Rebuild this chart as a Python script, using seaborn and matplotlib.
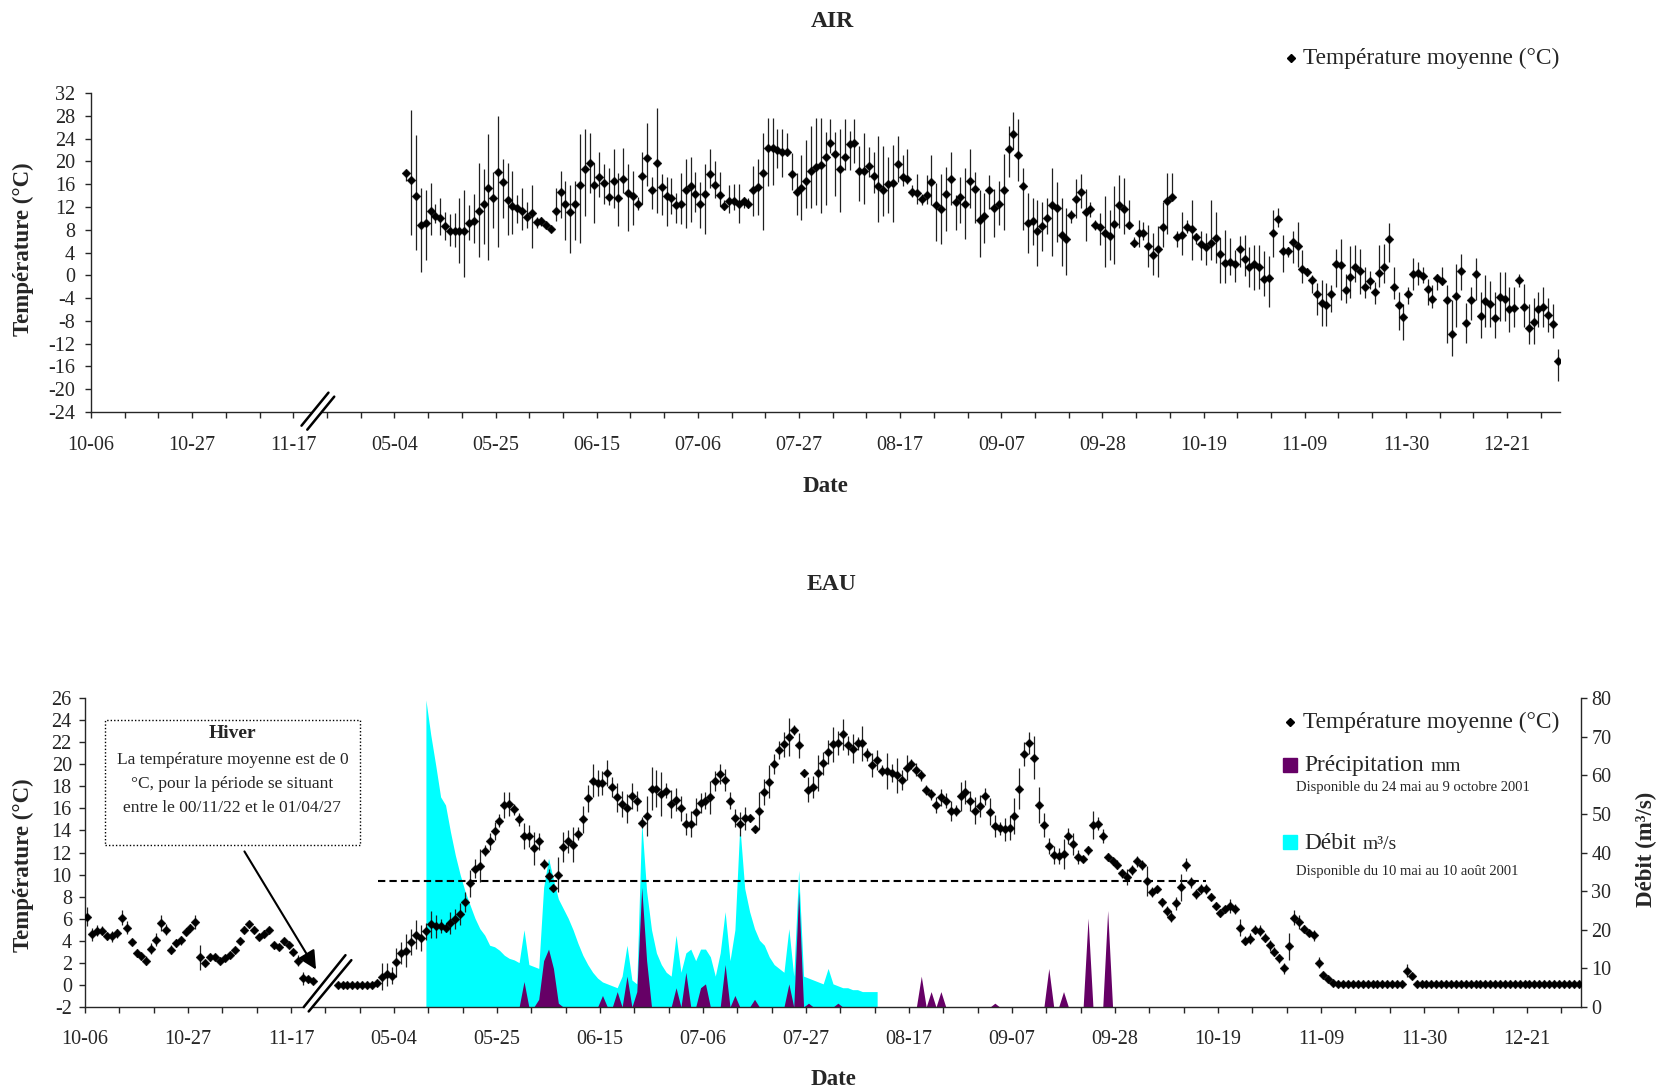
import numpy as np
import pandas as pd
import matplotlib
matplotlib.use("Agg")
import matplotlib.pyplot as plt
import seaborn as sns
from matplotlib.patches import Rectangle
from matplotlib.lines import Line2D

# ---------------------------------------------------------------- data
# day index on the (broken) category axis: 0 = 10-06 (2000), 63 = 05-04 (2001)
tick_labels = ["10-06", "10-27", "11-17", "05-04", "05-25", "06-15", "07-06",
               "07-27", "08-17", "09-07", "09-28", "10-19", "11-09", "11-30", "12-21"]

AIR_START = 65
air_mean = [18.0, 16.7, 14.0, 8.85, 9.26, 11.3, 10.4, 10.0, 8.7, 7.7, 7.7, 7.7, 7.7, 9.1, 9.6, 11.3, 12.6, 15.3, 13.5, 18.2,
            16.3, 13.2, 12.2, 11.8, 11.3, 10.3, 10.9, 9.4, 9.5, 8.85, 8.2, 11.3, 14.6, 12.5, 11.1, 12.6, 15.8, 18.6, 19.8, 15.9,
            17.2, 16.2, 13.7, 16.5, 13.6, 16.9, 14.5, 13.9, 12.6, 17.5, 20.6, 15.0, 19.8,
            15.45, 13.9, 13.5, 12.4, 12.5, 14.9, 15.6, 14.2, 12.6, 14.3, 17.8, 15.9, 14.1, 12.1, 13.0, 13.1, 12.5, 13.1, 12.6, 14.9,
            15.45, 18.0, 22.4, 22.4, 22.0, 21.7, 21.7, 17.7, 14.6, 15.3, 16.6, 18.4, 19.1, 19.3, 20.8, 23.3, 21.3, 18.7, 20.8, 23.0,
            23.3, 18.3, 18.3, 19.2, 17.4, 15.7, 15.0, 16.0, 16.2, 19.5, 17.2, 16.9, 14.7, 14.4, 13.4, 14.1,
            16.3, 12.4, 11.7, 14.3, 16.9, 12.8, 13.7, 12.6, 16.6, 15.2, 9.7, 10.4, 14.9, 11.9, 12.6, 15.0, 22.1, 24.8, 21.1, 15.6,
            9.26, 9.55, 7.7, 8.7, 10.0, 12.4, 11.9, 7.1, 6.3, 10.6, 13.4, 14.7, 11.1, 11.6, 8.85, 8.4, 7.5, 6.9, 9.0, 12.4,
            11.6, 8.85, 5.75, 7.5, 7.5, 5.2, 3.6, 4.6, 8.4, 13.1, 13.8, 6.8, 7.1, 8.55, 8.1, 6.8,
            5.5, 4.9, 5.6, 6.6, 3.8, 2.2, 2.4, 1.9, 4.7, 2.8, 1.5, 1.9, 1.4, -0.7, -0.5, 7.5, 9.8, 4.2, 4.2, 5.8,
            5.2, 1.1, 0.5, -0.8, -3.3, -4.8, -5.3, -3.3, 2.0, 1.8, -2.6, -0.3, 1.4, 0.7, -2.0, -1.0, -2.9, 0.4, 1.5, 6.3,
            -2.1, -5.3, -7.4, -3.3, 0.2, 0.4, -0.1, -2.4, -4.1, -0.5, -1.0, -4.4, -10.3, -3.6, 0.7, -8.3, -4.4, 0.2, -7.1,
            -4.5, -5.0, -7.5, -3.8, -4.2, -6.0, -5.8, -0.8, -5.5, -9.2, -8.2, -6.0, -5.5, -7.0, -8.5, -15.0]
air_high = [18.5, 29, 24.6, 15.3, 15, 16.2, 12.6, 13.5, 11.2, 10.8, 10.9, 13.5, 15, 12.4, 14.3, 19.8, 18.6, 24.8, 18.2, 28,
            20.5, 19.8, 18.3, 14.1, 15.4, 12.9, 15.9, 10.3, 10.3, 9.3, 8.5, 15.3, 18.4, 16.6, 15.9, 16.5, 24.8, 25.6, 25, 19.8,
            21.7, 19.5, 18.8, 22.1, 17.9, 22.4, 19.5, 18.3, 13.8, 21.7, 26.7, 17.2, 29.3,
            17.8, 17.2, 17.0, 14.4, 18.0, 20.4, 20.8, 18.2, 16.3, 19.5, 22.1, 20.0, 18.2, 13.2, 15.9, 16.0, 16.0, 13.7, 13.5, 19.2,
            20.5, 25.0, 27.6, 27.7, 25.6, 25.6, 25.0, 21.4, 18.0, 21.1, 23.8, 26.2, 27.6, 27.6, 25.2, 27.4, 25.2, 25.6, 27.4, 25.4,
            27.4, 22.7, 25.0, 22.6, 21.7, 24.5, 22.7, 20.8, 22.9, 24.5, 21.1, 22.1, 15.9, 17.8, 14.3, 17.6,
            21.1, 16.2, 17.8, 19.0, 21.7, 14.1, 17.2, 18.8, 22.1, 18.2, 15.0, 14.4, 17.6, 15.1, 16.6, 21.3, 26.2, 28.6, 27.4, 18.8,
            14.4, 13.5, 13.2, 12.9, 13.5, 18.8, 16.3, 13.5, 11.8, 11.5, 16.9, 17.8, 15.1, 12.9, 9.7, 10.9, 13.9, 11.4, 15.6, 17.6,
            17.0, 13.3, 6.8, 9.7, 9.3, 8.85, 7.4, 8.7, 12.9, 18.0, 18.0, 7.7, 11.2, 9.7, 13.3, 7.3,
            7.7, 7.5, 13.2, 11.2, 6.5, 7.9, 6.5, 4.5, 6.9, 7.1, 4.9, 5.3, 5.3, 4.2, 3.4, 11.4, 11.8, 7.1, 5.0, 7.7,
            9.4, 4.5, 1.2, 0.1, -1.4, -0.8, -1.3, -1.7, 4.6, 6.3, 0.25, 5.2, 5.3, 4.6, 1.5, 0.7, -1.1, 5.3, 5.5, 9.2,
            1.5, -2.9, -5.0, -2.0, 3.0, 2.4, 1.5, -0.7, -1.7, 0.25, 1.5, -1.7, -4.3, 2.0, 3.8, -4.9, -2.0, 3.0, -3.0,
            0.0, -1.0, -3.0, 0.5, 0.5, -2.0, -2.0, 0.3, -1.5, -5.0, -4.0, -3.0, -2.0, -4.0, -5.0, -13.0]
air_low = [16.5, 7.1, 4.4, 0.6, 2.7, 7.1, 9.1, 7.1, 6.2, 5.2, 5.0, 2.1, -0.3, 6.2, 5.6, 3.3, 5.5, 2.6, 8.3, 5.0,
           10.0, 7.1, 7.3, 9.1, 8.0, 8.3, 4.8, 8.3, 8.6, 8.3, 7.7, 9.6, 10.0, 6.2, 3.9, 6.2, 5.6, 10.4, 14.4, 9.1,
           13.7, 12.6, 12.4, 11.8, 8.6, 14.4, 7.7, 8.9, 11.5, 12.6, 15.6, 11.6, 10.9,
           10.6, 8.7, 10.8, 9.1, 9.0, 8.3, 9.4, 11.2, 8.3, 7.3, 15.3, 13.5, 12.1, 11.5, 11.0, 11.4, 9.1, 11.9, 11.8, 10.4,
           10.6, 8.0, 15.6, 15.9, 18.8, 17.2, 21.1, 15.0, 10.6, 9.7, 11.8, 11.8, 12.4, 10.9, 12.4, 21.4, 13.9, 11.2, 18.5, 18.5,
           19.7, 13.1, 12.6, 17.2, 14.4, 9.4, 10.4, 10.9, 9.4, 16.3, 15.6, 16.0, 13.8, 12.6, 12.4, 12.6,
           12.4, 6.1, 5.5, 7.7, 12.4, 7.9, 9.1, 6.3, 11.8, 9.1, 3.2, 5.6, 11.6, 6.8, 8.85, 8.0, 17.2, 22.1, 16.5, 8.0,
           3.9, 5.3, 1.6, 4.3, 7.3, 3.4, 5.9, 1.6, 0.1, 9.1, 10.0, 11.8, 6.1, 10.3, 8.0, 5.3, 1.4, 2.7, 2.0, 8.3,
           7.3, 8.3, 5.0, 5.0, 6.2, 1.4, 0.1, -0.3, 5.0, 7.3, 13.2, 5.0, 3.6, 7.4, 2.6, 5.5,
           2.7, 1.8, 2.6, 2.1, -1.4, -1.4, 0.1, -1.1, 1.5, -0.2, -2.0, -2.6, -2.4, -3.6, -5.5, 3.3, 8.4, 0.5, 3.3, 2.2,
           1.5, -1.4, -0.2, -3.1, -7.0, -8.9, -8.9, -6.5, -2.0, -4.3, -4.9, -4.0, -1.1, -3.3, -4.0, -2.4, -5.0, -2.0, -1.3, 2.4,
           -4.2, -9.6, -11.3, -5.0, -2.6, -1.7, -1.4, -5.2, -5.8, -2.6, -1.7, -11.9, -14.2, -9.1, -2.6, -11.9, -7.8, -4.3, -11.0,
           -9.0, -9.0, -11.0, -8.0, -8.0, -10.0, -9.0, -2.0, -9.0, -12.0, -12.0, -9.0, -9.0, -10.0, -11.0, -18.5]

# water temperature, autumn 2000 (before the winter break)
WATER_A_START = 0
water_a_mean = [6.2, 4.6, 4.9, 4.9, 4.4, 4.4, 4.7, 6.1, 5.2, 3.9, 2.9, 2.6, 2.2, 3.3, 4.1, 5.6, 5.0, 3.2, 3.8, 4.05,
                4.8, 5.2, 5.7, 2.5, 2.0, 2.5, 2.5, 2.2, 2.4, 2.7, 3.2, 4.0, 5.0, 5.5, 5.0, 4.35, 4.65, 4.95, 3.6, 3.4,
                3.95, 3.6, 3.0, 2.2, 0.6, 0.5, 0.35]
water_a_err = [0.9, 0.6, 0.5, 0.4, 0.3, 0.5, 0.4, 0.7, 0.6, 0.3, 0.4, 0.3, 0.4, 0.5, 0.6, 0.7, 0.5, 0.4, 0.4, 0.4,
               0.3, 0.3, 0.6, 1.1, 0.3, 0.3, 0.2, 0.2, 0.2, 0.2, 0.2, 0.3, 0.3, 0.3, 0.3, 0.2, 0.3, 0.2, 0.3, 0.2,
               0.3, 0.2, 0.2, 0.5, 0.6, 0.3, 0.2]

# water temperature, 2001 (after the break)
WATER_B_START = 51
water_b_mean = [0, 0, 0, 0, 0, 0, 0, 0, 0.15, 0.75, 0.95, 0.85, 2.05,
                2.9, 3.1, 3.9, 4.55, 4.25, 4.85, 5.5, 5.3, 5.35, 5.2, 5.65, 5.95, 6.45, 7.5, 9.2, 10.55, 10.8, 12.15, 13.0, 13.95,
                14.9, 16.3, 16.4, 15.9, 15.0, 13.5, 13.5, 12.4, 13.0, 11.0, 9.9, 8.8, 10.0, 12.5, 13.0, 12.7, 13.7, 15.0, 16.9, 18.5,
                18.3, 18.3, 19.2, 17.9, 17.0, 16.4, 16.0, 17.1, 16.7, 14.7, 15.3, 17.8, 17.8, 17.3, 17.6, 16.4, 16.8,
                16.0, 14.6, 14.6, 15.7, 16.5, 16.7, 17.0, 18.5, 19.1, 18.6, 16.7, 15.1, 14.6, 15.1, 15.1, 14.1, 15.8, 17.5, 18.4, 20.0,
                21.3, 21.8, 22.45, 23.1, 21.7, 19.2, 17.7, 17.9, 19.2, 20.1, 21.1, 21.8, 21.9, 22.7, 21.7, 21.4, 21.9, 21.9, 20.9, 19.9,
                20.4, 19.4, 19.4, 19.2, 19.0, 18.6, 19.7, 20.0, 19.5, 19.0, 17.7, 17.3, 16.3, 17.0, 16.7, 15.8, 15.8,
                17.1, 17.5, 16.7, 15.8, 16.2, 17.1, 15.7, 14.4, 14.2, 14.1, 14.2, 15.3, 17.8, 20.9, 21.9, 20.6, 16.3, 14.5, 12.6, 11.8,
                11.7, 11.9, 13.5, 12.8, 11.6, 11.4, 12.2, 14.5, 14.6, 13.5, 11.6, 11.2, 10.9, 10.1, 9.8, 10.4, 11.2, 10.9, 9.45, 8.4,
                8.7, 7.5, 6.7, 6.2, 7.4, 8.85, 10.9, 9.3, 8.25, 8.7, 8.7, 8.0, 7.2, 6.5, 6.9, 7.15, 6.85,
                5.2, 4.0, 4.2, 5.0, 4.9, 4.3, 3.6, 3.0, 2.4, 1.5, 3.5, 6.1, 5.7, 5.1, 4.7, 4.5,
                2.0, 0.9, 0.5, 0.2, 0.1, 0.1, 0.1, 0.1, 0.1, 0.1, 0.1, 0.1, 0.1, 0.1, 0.1, 0.1, 0.1, 0.1, 1.3, 0.8,
                0.1, 0.1, 0.1, 0.1, 0.1, 0.1, 0.1, 0.1, 0.1, 0.1, 0.1, 0.1, 0.1, 0.1, 0.1, 0.1, 0.1, 0.1, 0.1, 0.1,
                0.1, 0.1, 0.1, 0.1, 0.1, 0.1, 0.1, 0.1, 0.1, 0.1, 0.1, 0.1, 0.1, 0.1]
water_b_err = [0.05, 0.05, 0.05, 0.05, 0.05, 0.05, 0.05, 0.05, 0.2, 1.2, 1.0, 0.8, 1.3,
               1.0, 1.5, 1.2, 1.3, 1.2, 0.8, 1.2, 1.0, 0.6, 0.4, 1.0, 0.9, 1.0, 0.9, 1.2, 0.9, 1.5, 0.5, 0.8, 0.8,
               0.6, 1.2, 1.05, 0.5, 0.6, 1.2, 1.0, 1.5, 0.75, 0.45, 0.6, 0.3, 1.6, 1.35, 1.05, 1.6, 0.6, 1.2, 1.2, 1.5,
               1.2, 1.05, 1.2, 0.9, 1.3, 1.2, 1.3, 1.2, 0.9, 0.5, 1.8, 1.95, 1.65, 2.0, 0.7, 1.3, 1.05,
               1.1, 1.0, 1.2, 1.2, 0.9, 0.75, 1.5, 0.9, 0.9, 1.0, 0.75, 0.8, 1.1, 1.05, 0.3, 0.3, 1.7, 1.2, 1.5, 0.9,
               0.8, 1.1, 1.7, 0.45, 1.1, 0.4, 1.1, 1.0, 1.65, 1.05, 1.1, 1.6, 1.1, 1.4, 0.9, 1.3, 0.6, 1.6, 0.6, 1.1,
               0.9, 0.5, 1.65, 0.8, 1.6, 0.9, 1.1, 0.45, 0.6, 0.5, 0.45, 0.5, 0.7, 0.75, 0.7, 0.9, 0.5,
               1.3, 1.1, 0.9, 1.2, 1.0, 0.75, 1.2, 1.0, 0.6, 1.05, 1.1, 1.6, 1.9, 1.1, 1.0, 1.95, 1.65, 1.1, 0.7, 0.8,
               0.7, 1.35, 0.75, 1.0, 0.6, 0.3, 0.4, 1.3, 0.6, 0.6, 0.4, 0.3, 0.4, 0.45, 0.7, 0.45, 0.5, 0.45, 1.35, 0.45,
               0.3, 0.4, 0.45, 0.5, 0.6, 1.2, 0.6, 0.5, 0.45, 0.45, 0.45, 0.3, 0.3, 0.3, 0.3, 0.6, 0.45,
               0.8, 0.4, 0.5, 0.4, 0.5, 0.4, 0.5, 0.4, 0.4, 0.5, 1.2, 0.7, 0.6, 0.3, 0.3, 0.5,
               0.5, 0.3, 0.2, 0.05, 0.05, 0.05, 0.05, 0.05, 0.05, 0.05, 0.05, 0.05, 0.05, 0.05, 0.05, 0.05, 0.05, 0.05, 0.6, 0.3,
               0.05, 0.05, 0.05, 0.05, 0.05, 0.05, 0.05, 0.05, 0.05, 0.05, 0.05, 0.05, 0.05, 0.05, 0.05, 0.05, 0.05, 0.05, 0.05, 0.05,
               0.05, 0.05, 0.05, 0.05, 0.05, 0.05, 0.05, 0.05, 0.05, 0.05, 0.05, 0.05, 0.05, 0.05]

# discharge (m3/s), 10 May - 10 Aug 2001
DEBIT_START = 69
debit = [79.5, 70.4, 62.6, 54.4, 52.3, 45.4, 39.3, 34.2, 29.9, 26.4,
         23.0, 20.3, 18.6, 16.0, 15.6, 14.7, 13.4, 12.6, 12.2, 11.5,
         20.0, 11.0, 10.5, 10.0, 31.0, 38.5, 33.0, 28.0, 25.5, 23.0,
         20.0, 16.5, 13.4, 11.0, 9.0, 7.5, 6.5, 6.0, 5.5, 5.0,
         8.0, 16.0, 7.0, 6.0, 48.0, 30.0, 20.0, 14.0, 11.0, 9.0,
         8.0, 18.6, 9.0, 14.0, 15.0, 12.0, 15.0, 15.0, 13.0, 8.0,
         14.0, 24.7, 12.0, 20.0, 47.0, 30.7, 24.7, 20.3, 17.3, 16.0,
         13.0, 11.0, 10.0, 9.0, 20.3, 8.0, 35.4, 8.0, 7.5, 7.0,
         6.5, 6.0, 10.0, 6.0, 5.5, 5.0, 5.0, 4.5, 4.5, 4.0,
         4.0, 4.0, 4.0]

# precipitation (mm), 24 May - 9 Oct 2001 (days not listed: 0 mm)
PRECIP_START, PRECIP_END = 83, 221
precip_day = [89, 92, 93, 94, 95, 96, 105, 108, 110, 112, 113, 114, 120, 122, 125, 126, 130, 132, 136,
              143, 145, 147, 153, 170, 172, 174, 185, 196, 199, 204, 208]
precip_mm = [6.6, 2, 12, 15, 10, 1, 3, 4, 8, 4, 31, 12, 5, 9, 5, 6, 11, 3, 2,
             6, 30, 1, 1, 8, 4, 4, 1, 10, 4, 23, 25]

# dashed reference level on the water panel
seuil_level = 9.4
seuil_from, seuil_to = 59.7, 228.5

# ---------------------------------------------------------------- style
sns.set_style("ticks")
plt.rcParams["font.family"] = ["Liberation Serif", "DejaVu Serif"]
plt.rcParams["axes.unicode_minus"] = False
plt.rcParams["axes.linewidth"] = 1.0

CYAN = "#00FFFF"
PURPLE = "#660066"
TICK_FS = 14.5
LAB_FS = 16.5
LEG_FS = 16.8
N_DAYS = 305

air_df = pd.DataFrame({"pos": np.arange(AIR_START, AIR_START + len(air_mean)) + 0.5,
                       "temp": air_mean, "low": air_low, "high": air_high})
wa = pd.DataFrame({"pos": np.arange(WATER_A_START, WATER_A_START + len(water_a_mean)) + 0.5,
                   "temp": water_a_mean, "err": water_a_err})
wb = pd.DataFrame({"pos": np.arange(WATER_B_START, WATER_B_START + len(water_b_mean)) + 0.5,
                   "temp": water_b_mean, "err": water_b_err})
water_df = pd.concat([wa, wb], ignore_index=True)
debit_df = pd.DataFrame({"pos": np.arange(DEBIT_START, DEBIT_START + len(debit)) + 0.5, "q": debit})
pdays = np.arange(PRECIP_START, PRECIP_END + 1)
pvals = np.zeros(len(pdays))
for d, v in zip(precip_day, precip_mm):
    pvals[d - PRECIP_START] = v
precip_df = pd.DataFrame({"pos": pdays + 0.5, "mm": pvals})

fig = plt.figure(figsize=(16.64, 10.92), dpi=100)


def style_xaxis(ax, pad):
    ax.set_xlim(0, N_DAYS)
    ticks = np.arange(0, N_DAYS, 7)
    ax.set_xticks(ticks)
    labs = []
    for t in ticks:
        labs.append(tick_labels[t // 21] if t % 21 == 0 else "")
    ax.set_xticklabels(labs)
    ax.tick_params(axis="x", direction="out", length=4.5, width=1, labelsize=TICK_FS, pad=pad)


# ---------------------------------------------------------------- AIR
ax1 = fig.add_axes([0.0547, 0.6227, 0.8828, 0.2921])
ax1.vlines(air_df["pos"], air_df["low"], air_df["high"], color="#202020", lw=0.9, zorder=2)
sns.scatterplot(data=air_df, x="pos", y="temp", marker="D", s=20, color="black",
                edgecolor="black", linewidth=0.3, ax=ax1, legend=False, zorder=3)
ax1.set_ylim(-24, 32)
ax1.set_yticks(np.arange(-24, 33, 4))
ax1.tick_params(axis="y", direction="out", length=4.5, width=1, labelsize=TICK_FS, pad=7)
style_xaxis(ax1, 12.5)
sns.despine(ax=ax1)
ax1.set_xlabel("Date", fontsize=LAB_FS, fontweight="bold")
ax1.xaxis.set_label_coords(0.5, -0.232)
ax1.xaxis.label.set_va("center")
ax1.set_ylabel("Température (°C)", fontsize=LAB_FS, fontweight="bold")
ax1.yaxis.set_label_coords(-0.046, 0.511)
ax1.yaxis.label.set_va("center")
fig.text(0.5, 0.9805, "AIR", ha="center", va="center", fontsize=17, fontweight="bold")

# axis break marks (AIR)
ax1.plot([44.3, 49.8], [-26.75, -20.95], color="white", lw=4.5, clip_on=False, zorder=5, solid_capstyle="butt")
ax1.plot([43.7, 49.3], [-26.4, -20.6], color="black", lw=1.8, clip_on=False, zorder=6)
ax1.plot([44.9, 50.5], [-27.1, -21.3], color="black", lw=1.8, clip_on=False, zorder=6)

# legend AIR
fig.add_artist(Line2D([0.7758], [0.9469], marker="D", ms=4.2, color="black", transform=fig.transFigure))
fig.text(0.7831, 0.9469, "Température moyenne (°C)", fontsize=LEG_FS, va="center", ha="left")

# ---------------------------------------------------------------- EAU
ax = fig.add_axes([0.0511, 0.0778, 0.8990, 0.2830])
ax2 = ax.twinx()
ax2.fill_between(debit_df["pos"], 0, debit_df["q"], color=CYAN, lw=0, zorder=1)
ax2.fill_between(precip_df["pos"], 0, precip_df["mm"], color=PURPLE, lw=0, zorder=2)
ax2.set_ylim(0, 80)
ax2.set_yticks(np.arange(0, 81, 10))
ax2.tick_params(axis="y", direction="out", length=4.5, width=1, labelsize=TICK_FS, pad=3)
for s in ["top", "left", "bottom"]:
    ax2.spines[s].set_visible(False)
ax2.set_ylabel("Débit (m³/s)", fontsize=LAB_FS, fontweight="bold")
ax2.yaxis.set_label_coords(1.044, 0.511)
ax2.yaxis.label.set_va("center")

ax.set_zorder(ax2.get_zorder() + 1)
ax.patch.set_visible(False)
ax.hlines(seuil_level, seuil_from, seuil_to, colors="black", linestyles=(0, (3.5, 2)), lw=1.5, zorder=2)
ax.vlines(water_df["pos"], water_df["temp"] - water_df["err"], water_df["temp"] + water_df["err"],
          color="#202020", lw=0.9, zorder=3)
sns.scatterplot(data=water_df, x="pos", y="temp", marker="D", s=20, color="black",
                edgecolor="black", linewidth=0.3, ax=ax, legend=False, zorder=4)
ax.set_ylim(-2, 26)
ax.set_yticks(np.arange(-2, 27, 2))
ax.tick_params(axis="y", direction="out", length=4.5, width=1, labelsize=TICK_FS, pad=5)
style_xaxis(ax, 12)
ax.spines["top"].set_visible(False)
ax.spines["right"].set_visible(False)
ax.set_xlabel("Date", fontsize=LAB_FS, fontweight="bold")
ax.xaxis.set_label_coords(0.5, -0.234)
ax.xaxis.label.set_va("center")
ax.set_ylabel("Température (°C)", fontsize=LAB_FS, fontweight="bold")
ax.yaxis.set_label_coords(-0.0414, 0.46)
ax.yaxis.label.set_va("center")
fig.text(0.5, 0.4645, "EAU", ha="center", va="center", fontsize=17, fontweight="bold")

# axis break marks (EAU)
ax.plot([45.1, 53.6], [-2.2, 2.5], color="white", lw=4.5, clip_on=False, zorder=5, solid_capstyle="butt")
ax.plot([44.6, 53.1], [-2.0, 2.7], color="black", lw=1.8, clip_on=False, zorder=6)
ax.plot([45.6, 54.3], [-2.4, 2.25], color="black", lw=1.8, clip_on=False, zorder=6)

# winter annotation box
ax.add_patch(Rectangle((0.0136, 0.5243), 0.1700, 0.4045, transform=ax.transAxes, fill=False,
                       ec="black", lw=1.0, ls=(0, (1, 1.5)), zorder=6))
ax.text(0.0985, 0.8858, "Hiver", transform=ax.transAxes, ha="center", va="center",
        fontsize=14, fontweight="bold", zorder=7)
for yy, line in zip([0.800, 0.721, 0.645],
                    ["La température moyenne est de 0", "°C, pour la période se situant",
                     "entre le 00/11/22 et le 01/04/27"]):
    ax.text(0.0985, yy, line, transform=ax.transAxes, ha="center", va="center", fontsize=12.5, zorder=7)
ax.annotate("", xy=(47.1, 1.4), xytext=(32.5, 12.1),
            arrowprops=dict(arrowstyle="-|>", color="black", lw=1.5, mutation_scale=28,
                            shrinkA=0, shrinkB=0), zorder=7)

# legend EAU
fig.add_artist(Line2D([0.7752], [0.3388], marker="D", ms=4.2, color="black", transform=fig.transFigure))
fig.text(0.7831, 0.3388, "Température moyenne (°C)", fontsize=LEG_FS, va="center", ha="left")
sq_w, sq_h = 14 / 1664, 14 / 1092
fig.add_artist(Rectangle((0.7752 - sq_w / 2, 0.2995 - sq_h / 2), sq_w, sq_h, color=PURPLE,
                         transform=fig.transFigure))
fig.add_artist(Rectangle((0.7752 - sq_w / 2, 0.2289 - sq_h / 2), sq_w, sq_h, color=CYAN,
                         transform=fig.transFigure))
t_p = fig.text(0.7837, 0.2935, "Précipitation", fontsize=LEG_FS, va="baseline", ha="left")
t_d = fig.text(0.7837, 0.2225, "Débit", fontsize=LEG_FS, va="baseline", ha="left")
fig.text(0.7788, 0.2784, "Disponible du 24 mai au 9 octobre 2001", fontsize=10.5, va="center", ha="left")
fig.text(0.7788, 0.2015, "Disponible du 10 mai au 10 août 2001", fontsize=10.5, va="center", ha="left")
fig.canvas.draw()
r = fig.canvas.get_renderer()
inv = fig.transFigure.inverted()
for t, suffix in [(t_p, "mm"), (t_d, "m³/s")]:
    bb = t.get_window_extent(r)
    x1 = inv.transform((bb.x1, bb.y0))[0]
    fig.text(x1 + 0.004, t.get_position()[1], suffix, fontsize=14, va="baseline", ha="left")

fig.savefig("out.png", dpi=100)
